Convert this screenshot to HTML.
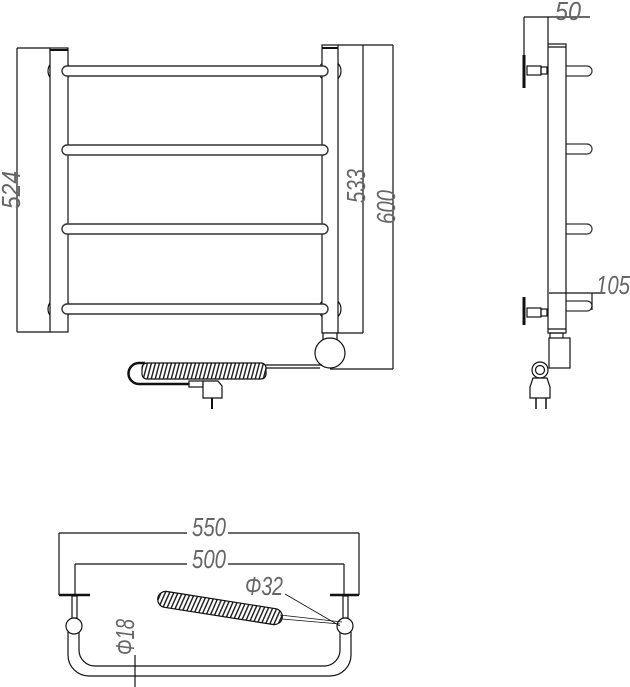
<!DOCTYPE html>
<html><head><meta charset="utf-8"><style>html,body{margin:0;padding:0;background:#fff}svg{display:block}</style></head>
<body>
<svg width="630" height="687" viewBox="0 0 630 687" xmlns="http://www.w3.org/2000/svg" font-family="Liberation Sans, sans-serif">
<defs>
<pattern id="h" width="4" height="20" patternUnits="userSpaceOnUse" patternTransform="skewX(-15)">
<rect width="4" height="20" fill="#fff"/><rect width="1.5" height="20" fill="#222"/></pattern>
</defs>
<g fill="none" stroke="#111" stroke-width="1.2">
<circle cx="59" cy="71" r="11"/><circle cx="59" cy="309" r="11"/>
<circle cx="330" cy="71" r="11"/><circle cx="330" cy="309" r="11"/>
<rect x="50" y="48" width="18" height="284" fill="#fff"/>
<line x1="50" y1="50" x2="68" y2="50" stroke-width="2"/>
<rect x="322" y="45" width="16" height="288" fill="#fff"/>
<line x1="322" y1="48" x2="338" y2="48" stroke-width="2"/>
<g stroke="#333" stroke-width="1.4" fill="#fff">
<rect x="62" y="66" width="266" height="10" rx="5"/>
<rect x="62" y="145" width="266" height="10" rx="5"/>
<rect x="62" y="224" width="266" height="10" rx="5"/>
<rect x="62" y="304" width="266" height="10" rx="5"/>
</g>
<line x1="17" y1="48" x2="17" y2="332"/><line x1="17" y1="48" x2="50" y2="48"/><line x1="17" y1="332" x2="50" y2="332"/>
<line x1="363" y1="45" x2="363" y2="333"/><line x1="338" y1="45" x2="393" y2="45"/><line x1="338" y1="333" x2="363" y2="333"/>
<line x1="393" y1="45" x2="393" y2="369"/><line x1="330" y1="369" x2="393" y2="369"/>
<rect x="323" y="333" width="14" height="7" fill="#fff"/>
<circle cx="330" cy="353" r="15" fill="#fff"/>
<line x1="265" y1="365" x2="322" y2="365"/><line x1="265" y1="368" x2="320" y2="368"/>
<path d="M145 363 H139 A10 10 0 0 0 139 384 H190" stroke-width="2.5"/>
<path d="M145 365 H139 A8 8 0 0 0 139 381" stroke="#fff" stroke-width="1"/>
<rect x="142" y="363" width="124" height="16" rx="5" fill="url(#h)"/>
<rect x="189" y="381" width="14" height="6" fill="#fff"/>
<path d="M203 381 H218 L222 386 V398 H203 Z" fill="#fff"/>
<line x1="212" y1="398" x2="212" y2="409" stroke-width="2"/>
<line x1="524" y1="55" x2="524" y2="88" stroke-width="3"/>
<line x1="524" y1="297" x2="524" y2="325" stroke-width="3"/>
<rect x="527" y="66" width="14" height="9"/><rect x="541" y="67" width="6" height="7"/>
<rect x="527" y="308" width="14" height="9"/><rect x="541" y="309" width="6" height="7"/>
<g stroke="#333">
<path d="M566 66 H587 A5 5 0 0 1 587 76 H566"/>
<path d="M566 144 H587 A5 5 0 0 1 587 154 H566"/>
<path d="M566 224 H587 A5 5 0 0 1 587 234 H566"/>
<path d="M566 301 H587 A5 5 0 0 1 587 311 H566"/>
</g>
<rect x="548" y="44" width="18" height="289" fill="#fff"/>
<line x1="548" y1="47" x2="566" y2="47"/>
<line x1="548" y1="329" x2="566" y2="329"/>
<line x1="524" y1="17" x2="524" y2="55"/><line x1="524" y1="17" x2="590" y2="17"/><line x1="548" y1="17" x2="548" y2="44"/>
<line x1="549" y1="293" x2="597" y2="293"/><line x1="592" y1="293" x2="592" y2="310"/>
<rect x="550" y="333" width="13" height="6"/>
<rect x="549" y="338" width="21" height="30" fill="#fff"/>
<circle cx="540" cy="370" r="8" fill="#fff"/><circle cx="540" cy="370" r="4.5"/>
<path d="M533 378 H547 L550 387 V398 H530 V387 Z" fill="#fff"/>
<line x1="536" y1="398" x2="536" y2="409" stroke-width="1.5"/><line x1="546" y1="398" x2="546" y2="409" stroke-width="1.5"/>
<line x1="59" y1="533" x2="187" y2="533"/><line x1="228" y1="533" x2="359" y2="533"/>
<line x1="59" y1="533" x2="59" y2="595"/><line x1="359" y1="533" x2="359" y2="595"/>
<line x1="75" y1="564" x2="187" y2="564"/><line x1="228" y1="564" x2="344" y2="564"/>
<line x1="75" y1="564" x2="75" y2="595"/><line x1="344" y1="564" x2="344" y2="595"/>
<line x1="59" y1="595" x2="90" y2="595" stroke-width="2.5"/><line x1="330" y1="595" x2="359" y2="595" stroke-width="2.5"/>
<rect x="72" y="596" width="5" height="22"/><rect x="343" y="596" width="5" height="22"/>
<path d="M68 632 V655 A21 21 0 0 0 89 676 H330 A21 21 0 0 0 351 655 V632"/>
<path d="M79 632 V650 A16 16 0 0 0 95 666 H325 A16 16 0 0 0 340 650 V632"/>
<circle cx="74" cy="626" r="8" fill="#fff"/><circle cx="345" cy="626" r="8" fill="#fff"/>
<g transform="rotate(9 220 608)"><rect x="157" y="600" width="126" height="16" rx="8" fill="url(#h)"/></g>
<path d="M280 615 L342 622 M282 619 L340 624" stroke-width="0.8"/>
<line x1="285" y1="594" x2="340" y2="626" stroke-width="0.8"/>
<line x1="135" y1="655" x2="135" y2="687"/>
</g>
<g fill="#666" font-size="26" font-style="italic">
<text x="0" y="0" transform="translate(20 190) rotate(-90)" text-anchor="middle" textLength="38" lengthAdjust="spacingAndGlyphs">524</text>
<text x="0" y="0" transform="translate(365 186) rotate(-90)" text-anchor="middle" textLength="34" lengthAdjust="spacingAndGlyphs">533</text>
<text x="0" y="0" transform="translate(395 207) rotate(-90)" text-anchor="middle" textLength="34" lengthAdjust="spacingAndGlyphs">600</text>
<text x="555" y="20" textLength="26" lengthAdjust="spacingAndGlyphs">50</text>
<text x="596" y="294" textLength="34" lengthAdjust="spacingAndGlyphs">105</text>
<text x="192" y="536" textLength="34" lengthAdjust="spacingAndGlyphs">550</text>
<text x="192" y="568" textLength="34" lengthAdjust="spacingAndGlyphs">500</text>
<text x="245" y="595" textLength="38" lengthAdjust="spacingAndGlyphs">Φ32</text>
<text x="0" y="0" transform="translate(134 637) rotate(-90)" text-anchor="middle" textLength="36" lengthAdjust="spacingAndGlyphs">Φ18</text>
</g>
</svg>
</body></html>
